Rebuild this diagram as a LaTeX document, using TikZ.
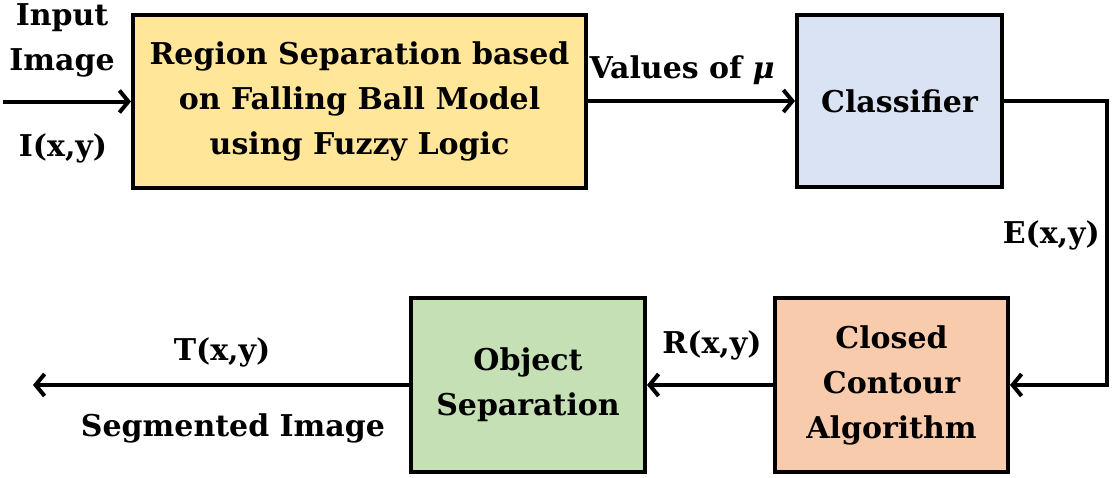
\documentclass[tikz,border=0pt]{standalone}
\usepackage{fontspec}
\setmainfont{DejaVu Serif}
\usetikzlibrary{arrows.meta}
\definecolor{cyellow}{HTML}{FFE699}
\definecolor{cblue}{HTML}{DAE3F3}
\definecolor{corange}{HTML}{F8CBAD}
\definecolor{cgreen}{HTML}{C5E0B4}
\tikzset{
  blk/.style={draw=black, line width=4pt, rectangle, align=center, inner sep=0pt,
    font=\fontsize{30}{45}\selectfont\bfseries},
  lbl/.style={inner sep=0pt, align=center, font=\fontsize{30}{45}\selectfont\bfseries},
  conn/.style={line width=4pt, -{Straight Barb[length=9pt,width=22pt]}},
}
\begin{document}
\begin{tikzpicture}[x=1pt,y=-1pt]
\useasboundingbox (0,0) rectangle (1113,477);
\node[blk, fill=cyellow, minimum width=453pt, minimum height=173pt] (rs) at (359.5,101.5)
  {Region Separation based\\on Falling Ball Model\\using Fuzzy Logic};
\node[blk, fill=cblue, minimum width=205pt, minimum height=172pt] (cl) at (899.5,101) {Classifier};
\node[blk, fill=corange, minimum width=233pt, minimum height=174pt] (cc) at (891.5,385)
  {Closed\\Contour\\Algorithm};
\node[blk, fill=cgreen, minimum width=234pt, minimum height=174pt] (os) at (528,385)
  {Object\\Separation};
\coordinate (in) at (3,101.5);
\coordinate (turn) at (1107,240);
\coordinate (out) at (33,385);
\draw[conn] (in) -- (rs.west);
\draw[conn] (rs.east |- cl.west) -- (cl.west);
\draw[conn] (cl.east) -| (turn) |- (cc.east);
\draw[conn] (cc.west) -- (os.east);
\draw[conn] (os.west) -- (out);
\node[lbl] (t1) at (62,40) {Input\\Image};
\node[lbl] (t2) at (63,148) {I(x,y)};
\node[lbl] (t3) at (682,70) {Values of \textit{μ}};
\node[lbl, anchor=east] (t4) at (1100,235) {E(x,y)};
\node[lbl] (t5) at (712,345) {R(x,y)};
\node[lbl] (t6) at (222,352) {T(x,y)};
\node[lbl] (t7) at (233,428) {Segmented Image};
\end{tikzpicture}
\end{document}
